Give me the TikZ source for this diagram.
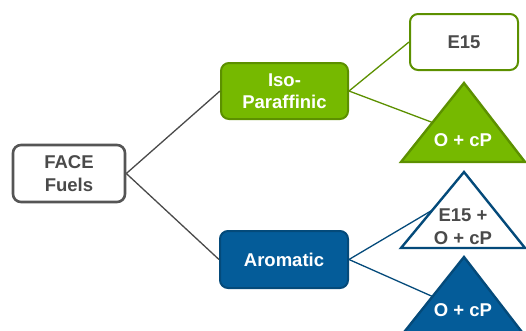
\documentclass[tikz,border=0pt]{standalone}
\usepackage{fontspec}
\setmainfont{Liberation Sans}
\definecolor{gfill}{HTML}{76B900}
\definecolor{gline}{HTML}{5C9000}
\definecolor{bfill}{HTML}{045C99}
\definecolor{bline}{HTML}{044A7A}
\definecolor{gray1}{HTML}{555555}
\definecolor{txtgray}{HTML}{4A4A4A}
\begin{document}
\begin{tikzpicture}[x=1pt,y=-1pt,
  every node/.style={font=\fontsize{18.5}{22.5}\selectfont\bfseries, align=center, inner sep=0pt},
  box/.style={rectangle, rounded corners=8pt},
  graybox/.style={box, draw=gray1, line width=2.6pt, fill=white, text=txtgray},
  greenbox/.style={box, draw=gline, line width=2pt, fill=gfill, text=white},
  greenwhite/.style={box, draw=gline, line width=2pt, fill=white, text=txtgray},
  bluebox/.style={box, draw=bline, line width=2pt, fill=bfill, text=white},
  tri/.style={line width=2.4pt, line join=miter},
  conn/.style={line width=1.3pt},
]
\useasboundingbox (0,0) rectangle (526,330);
% nodes
\node[graybox, minimum width=112pt, minimum height=57pt] (face) at (69,173.5) {FACE\\Fuels};
\node[greenbox, minimum width=127pt, minimum height=56pt] (iso) at (284.5,91) {Iso-\\Paraffinic};
\node[bluebox, minimum width=128pt, minimum height=57pt] (aro) at (284,259.5) {Aromatic};
\node[greenwhite, minimum width=108pt, minimum height=56pt] (e15) at (464,42) {E15};
% triangle anchor coordinates
\coordinate (gt) at (432.5,122.5);
\coordinate (wt) at (432.5,210);
\coordinate (bt) at (432.5,296.5);
% connectors
\draw[conn, draw=txtgray] (face.east) -- (iso.west);
\draw[conn, draw=txtgray] (face.east) -- (aro.west);
\draw[conn, draw=gline] (iso.east) -- (e15.west);
\draw[conn, draw=gline] (iso.east) -- (gt);
\draw[conn, draw=bline] (aro.east) -- (wt);
\draw[conn, draw=bline] (aro.east) -- (bt);
% triangles
\draw[tri, draw=gline, fill=gfill] (401,162) -- (464,83) -- (525,162) -- cycle;
\draw[tri, draw=bline, fill=white] (401,248) -- (464,172) -- (525,248) -- cycle;
\draw[tri, draw=bline, fill=bfill] (401,336) -- (464,257) -- (525,336) -- cycle;
\node[text=white] (gtext) at (463,140) {O + cP};
\node[text=txtgray] (wtext) at (463,226.5) {E15 +\\O + cP};
\node[text=white] (btext) at (463,310) {O + cP};
\end{tikzpicture}
\end{document}
